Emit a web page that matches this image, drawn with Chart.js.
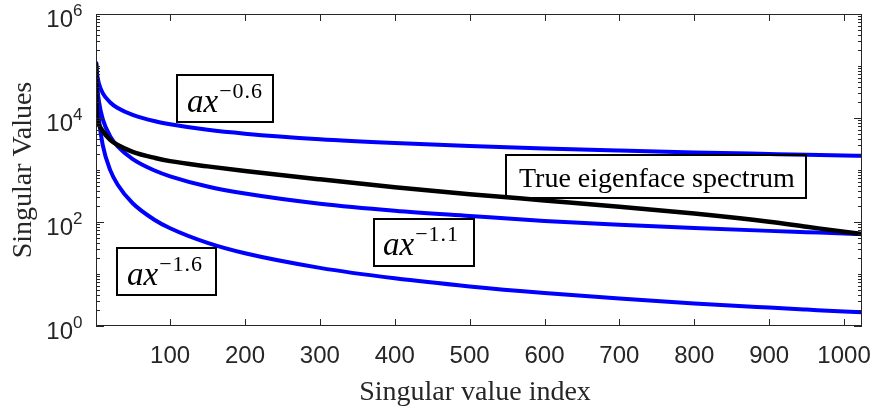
<!DOCTYPE html>
<html>
<head>
<meta charset="utf-8">
<script src="https://cdn.jsdelivr.net/npm/chart.js@4/dist/chart.umd.min.js"></script>
<style>
  html, body { margin: 0; padding: 0; background: #ffffff; }
  canvas { display: block; }
</style>
</head>
<body>
<canvas id="spectrum" width="876" height="411"></canvas>
<script>
// Sample positions along the singular value index
const sampleIndex = [1, 2, 3, 5, 10, 20, 30, 50, 80, 100, 150, 200, 300, 400, 500, 600, 700, 800, 900, 950, 1000, 1024];

// Measured eigenface singular values
const trueSpectrum = [117000, 12000, 8900, 7400, 5600, 3800, 3020, 2240, 1700, 1480, 1175, 955, 661, 468, 343, 260, 197, 145, 101, 81, 65, 59];

// Power-law reference curves a·x^p
const fitNeg06 = [120000, 79200, 62100, 45700, 30100, 19900, 15600, 11500, 8640, 7570, 5930, 5000, 3920, 3300, 2880, 2580, 2360, 2180, 2030, 1960, 1900, 1880];
const fitNeg11 = [120000, 56000, 35800, 20400, 9530, 4440, 2840, 1620, 967, 757, 482, 353, 225, 165, 131, 105, 89, 77, 67.5, 63.7, 60.1, 58.6];
const fitNeg16 = [120000, 39600, 20700, 9140, 3010, 994, 520, 229, 108, 75.7, 39.6, 25.0, 13.1, 8.25, 5.77, 4.31, 3.37, 2.72, 2.26, 2.07, 1.90, 1.84];

// Axis ticks
const xTickValues = [100, 200, 300, 400, 500, 600, 700, 800, 900, 1000];
const yTickExponents = [0, 2, 4, 6];

// Curve annotations: exponent text and anchor (top-left corner, data units)
const fitLabels = [
  { base: 'ax', sup: '\u22120.6', x: 108.8, y: Math.pow(10, 4.827), w: 96, h: 47, tx: 10, ty: 37 },
  { base: 'ax', sup: '\u22121.1', x: 372.6, y: Math.pow(10, 2.058), w: 100, h: 47, tx: 9, ty: 36 },
  { base: 'ax', sup: '\u22121.6', x: 29, y: Math.pow(10, 1.506), w: 99, h: 47, tx: 10, ty: 37 }
];
const spectrumLabel = { text: 'True eigenface spectrum', x: 548.6, y: Math.pow(10, 3.288), w: 300, h: 43, tx: 13, ty: 32 };

const AXIS_COLOR = '#262626';
const SERIF = '"Liberation Serif", "Times New Roman", serif';
const SANS = '"Liberation Sans", Arial, Helvetica, sans-serif';

function toPoints(values) {
  return values.map((v, i) => ({ x: sampleIndex[i], y: v }));
}

const axesPlugin = {
  id: 'matlabAxes',
  afterDatasetsDraw(chart) {
    const ctx = chart.ctx;
    const xs = chart.scales.x, ys = chart.scales.y;
    ctx.save();
    ctx.strokeStyle = '#000000';
    ctx.lineWidth = 2;
    ctx.fillStyle = '#000000';
    ctx.textBaseline = 'alphabetic';
    ctx.textAlign = 'left';
    fitLabels.forEach(l => {
      const px = Math.round(xs.getPixelForValue(l.x));
      const py = Math.round(ys.getPixelForValue(l.y));
      ctx.strokeRect(px, py, l.w, l.h);
      ctx.font = 'italic 33px ' + SERIF;
      ctx.fillText(l.base, px + l.tx, py + l.ty);
      const bw = ctx.measureText(l.base).width;
      ctx.font = '22px ' + SERIF;
      ctx.letterSpacing = '1px';
      ctx.fillText(l.sup, px + l.tx + bw + 1, py + l.ty - 14);
      ctx.letterSpacing = '0px';
    });
    const s = spectrumLabel;
    const sx = Math.round(xs.getPixelForValue(s.x));
    const sy = Math.round(ys.getPixelForValue(s.y));
    ctx.strokeRect(sx, sy, s.w, s.h);
    ctx.font = '28px ' + SERIF;
    ctx.fillText(s.text, sx + s.tx, sy + s.ty);
    ctx.restore();
  },
  afterDraw(chart) {
    const ctx = chart.ctx;
    const a = chart.chartArea;
    const xs = chart.scales.x, ys = chart.scales.y;
    ctx.save();
    ctx.strokeStyle = AXIS_COLOR;
    ctx.lineWidth = 1;
    // frame
    ctx.strokeRect(a.left + 0.5, a.top + 0.5, a.right - a.left - 1, a.bottom - a.top - 1);
    ctx.beginPath();
    // x ticks, bottom and top, pointing inward
    xTickValues.forEach(v => {
      const px = Math.round(xs.getPixelForValue(v)) + 0.5;
      ctx.moveTo(px, a.bottom); ctx.lineTo(px, a.bottom - 7);
      ctx.moveTo(px, a.top); ctx.lineTo(px, a.top + 7);
    });
    // y ticks: major on labelled decades, minor elsewhere
    for (let k = 0; k <= 6; k++) {
      for (let m = 1; m <= 9; m++) {
        if (k === 6 && m > 1) break;
        const v = m * Math.pow(10, k);
        const major = m === 1 && yTickExponents.includes(k);
        const len = major ? 8 : 4;
        const py = Math.round(ys.getPixelForValue(v)) + 0.5;
        ctx.moveTo(a.left, py); ctx.lineTo(a.left + len, py);
        ctx.moveTo(a.right, py); ctx.lineTo(a.right - len, py);
      }
    }
    ctx.stroke();

    // tick labels
    ctx.fillStyle = AXIS_COLOR;
    ctx.textBaseline = 'alphabetic';
    ctx.font = '24px ' + SANS;
    ctx.textAlign = 'center';
    xTickValues.forEach(v => {
      ctx.fillText(String(v), xs.getPixelForValue(v), a.bottom + 37);
    });
    yTickExponents.forEach(e => {
      const py = ys.getPixelForValue(Math.pow(10, e));
      ctx.font = '24px ' + SANS;
      ctx.textAlign = 'right';
      ctx.fillText('10', 73, py + 13);
      ctx.font = '17px ' + SANS;
      ctx.textAlign = 'left';
      ctx.fillText(String(e), 73, py + 2);
    });

    // axis titles
    ctx.fillStyle = '#262626';
    ctx.font = '28px ' + SERIF;
    ctx.textAlign = 'center';
    ctx.fillText('Singular value index', (a.left + a.right) / 2 - 4, 400);
    ctx.save();
    ctx.translate(31, (a.top + a.bottom) / 2);
    ctx.rotate(-Math.PI / 2);
    ctx.fillText('Singular Values', 0, 0);
    ctx.restore();
    ctx.restore();
  }
};

const lineStyle = (color, width) => ({
  borderColor: color,
  backgroundColor: color,
  borderWidth: width,
  pointRadius: 0,
  fill: false,
  cubicInterpolationMode: 'monotone'
});

new Chart(document.getElementById('spectrum'), {
  type: 'line',
  data: {
    datasets: [
      Object.assign({ label: 'True eigenface spectrum', data: toPoints(trueSpectrum) }, lineStyle('#000000', 4.5)),
      Object.assign({ label: 'ax^-0.6', data: toPoints(fitNeg06) }, lineStyle('#0000ff', 4)),
      Object.assign({ label: 'ax^-1.1', data: toPoints(fitNeg11) }, lineStyle('#0000ff', 4)),
      Object.assign({ label: 'ax^-1.6', data: toPoints(fitNeg16) }, lineStyle('#0000ff', 4))
    ]
  },
  options: {
    responsive: false,
    devicePixelRatio: 1,
    animation: false,
    layout: { padding: { left: 96, top: 14, right: 14, bottom: 85 } },
    scales: {
      x: { type: 'linear', min: 1, max: 1024, display: false },
      y: { type: 'logarithmic', min: 1, max: 1e6, display: false }
    },
    plugins: { legend: { display: false }, tooltip: { enabled: false } }
  },
  plugins: [axesPlugin]
});
</script>
</body>
</html>
